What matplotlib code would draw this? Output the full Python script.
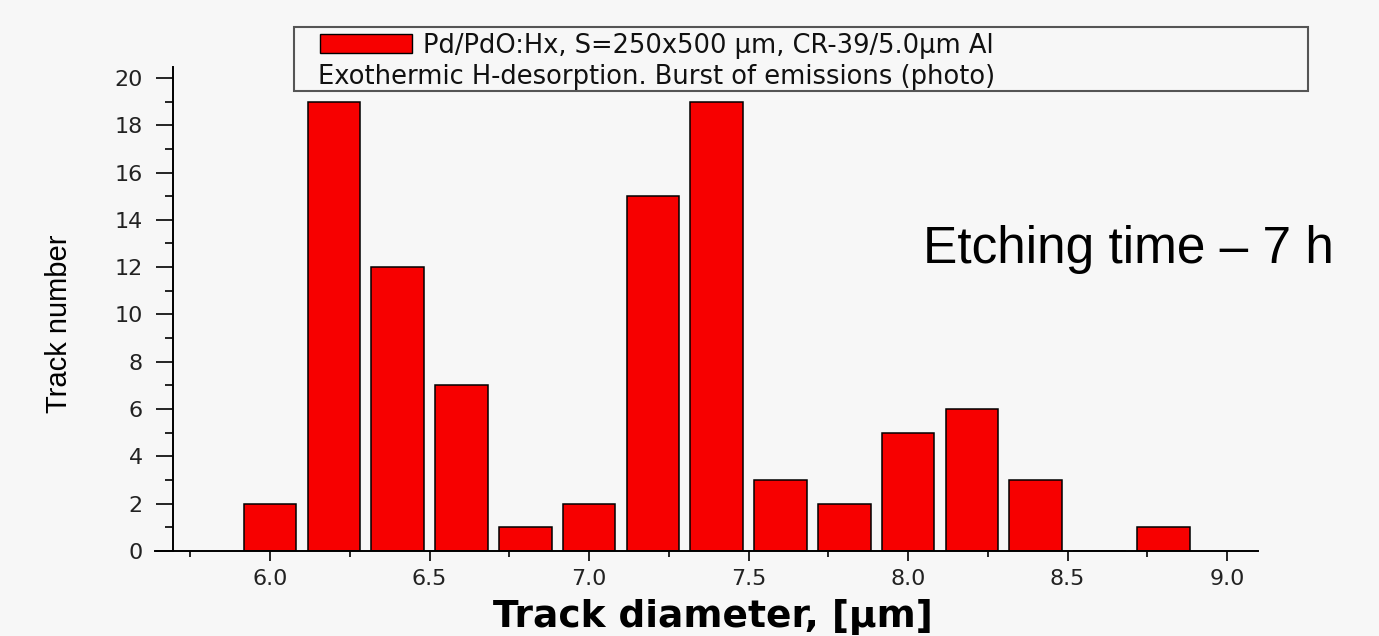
import matplotlib
matplotlib.use("Agg")
import matplotlib.pyplot as plt
import matplotlib.patches as mpatches
from matplotlib.ticker import MultipleLocator, FormatStrFormatter

# data
diameters = [6.0, 6.2, 6.4, 6.6, 6.8, 7.0, 7.2, 7.4, 7.6, 7.8, 8.0, 8.2, 8.4, 8.6, 8.8]
counts = [2, 19, 12, 7, 1, 2, 15, 19, 3, 2, 5, 6, 3, 0, 1]

legend_line1 = "Pd/PdO:Hx, S=250x500 \u03bcm, CR-39/5.0\u03bcm Al"
legend_line2 = "Exothermic H-desorption. Burst of emissions (photo)"
x_label = "Track diameter, [\u03bcm]"
y_label = "Track number"
note = "Etching time \u2013 7 h"

W, H = 1379, 636
BG = "#f7f7f7"


def fx(px):
	return px / W


def fy(py):
	return 1 - py / H


fig = plt.figure(figsize=(W / 100, H / 100), dpi=100, facecolor=BG)
ax = fig.add_axes([fx(155), fy(551), fx(1258) - fx(155), fy(67) - fy(551)])
ax.set_facecolor(BG)

ax.bar(diameters, counts, width=0.165, color="#f70000", edgecolor="black", linewidth=1.1, zorder=2)

ax.set_xlim(5.639, 9.097)
ax.set_ylim(0, 20.46)

for side in ("top", "right"):
	ax.spines[side].set_visible(False)
ax.spines["left"].set_position(("data", 5.696))
ax.spines["left"].set_linewidth(1.4)
ax.spines["bottom"].set_linewidth(1.4)
ax.spines["left"].set_zorder(3)
ax.spines["bottom"].set_zorder(3)

ax.xaxis.set_major_locator(MultipleLocator(0.5))
ax.xaxis.set_minor_locator(MultipleLocator(0.25))
ax.xaxis.set_major_formatter(FormatStrFormatter("%.1f"))
ax.yaxis.set_major_locator(MultipleLocator(2))
ax.yaxis.set_minor_locator(MultipleLocator(1))

ax.tick_params(axis="x", which="major", direction="out", length=7, width=1.2, pad=6,
			   labelsize=16, labelcolor="#222222")
ax.tick_params(axis="x", which="minor", direction="out", length=4.5, width=1.2)
ax.tick_params(axis="y", which="major", direction="out", length=12, width=1.2, pad=10,
			   labelsize=16, labelcolor="#222222")
ax.tick_params(axis="y", which="minor", direction="out", length=6, width=1.2)

# axis titles
fig.text(fx(713), fy(627), x_label, ha="center", va="baseline",
		 fontsize=27, fontweight="bold", family="DejaVu Sans")
fig.text(fx(59), fy(324), y_label, ha="center", va="center", rotation=90,
		 fontsize=21, fontweight="medium", color="black",
		 family=["Liberation Sans Narrow", "Liberation Sans", "DejaVu Sans"])

# legend box drawn by hand (two-line Origin style legend)
fig.patches.append(mpatches.Rectangle((fx(294), fy(91)), fx(1308) - fx(294), fy(27) - fy(91),
									  transform=fig.transFigure, fill=False,
									  edgecolor="#555555", linewidth=1.5))
fig.patches.append(mpatches.Rectangle((fx(320), fy(53)), fx(412) - fx(320), fy(34) - fy(53),
									  transform=fig.transFigure, facecolor="#f70000",
									  edgecolor="black", linewidth=1.0))
fig.text(fx(423), fy(53), legend_line1, ha="left", va="baseline", fontsize=18.5,
		 family="DejaVu Sans", color="#111111")
fig.text(fx(318), fy(84), legend_line2, ha="left", va="baseline", fontsize=18.5,
		 family="DejaVu Sans", color="#111111")

# annotation added on top of the plot
fig.text(fx(923), fy(263), note, ha="left", va="baseline", fontsize=37,
		 family=["Liberation Sans", "DejaVu Sans"], color="black")

fig.savefig("out.png", dpi=100, facecolor=BG)
